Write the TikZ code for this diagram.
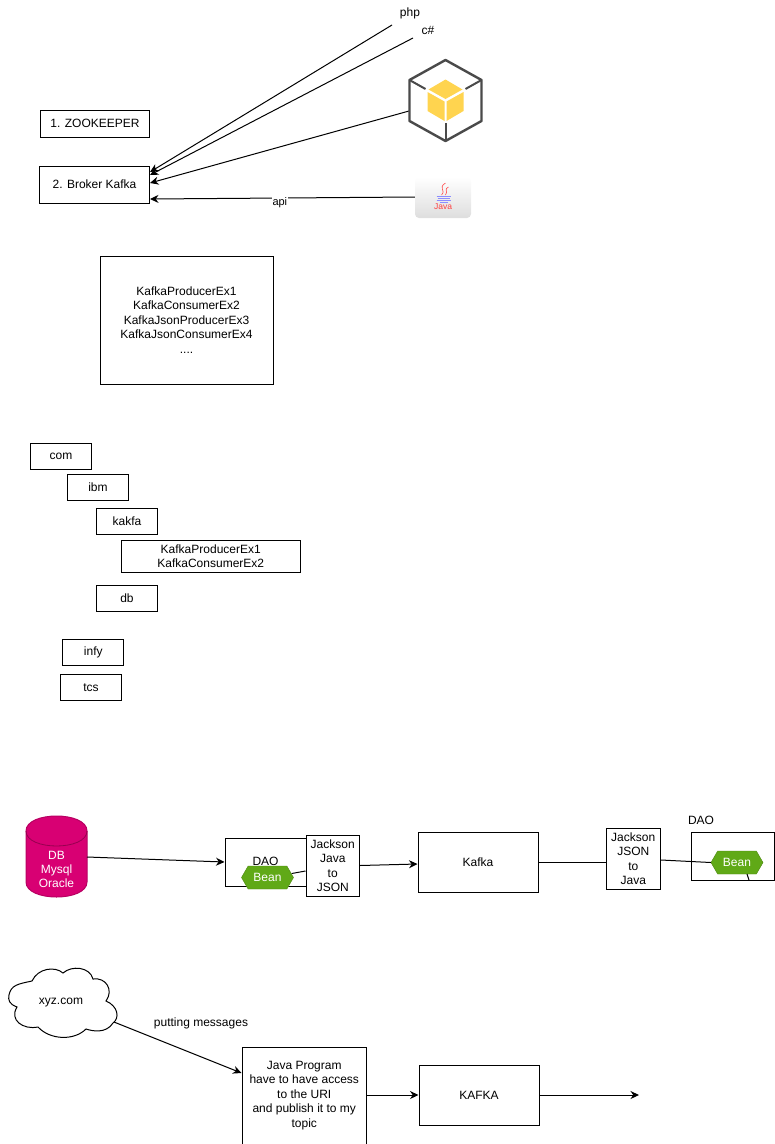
\documentclass[tikz,border=0pt]{standalone}
\usepackage{fontspec}
\setmainfont{Liberation Sans}
\usetikzlibrary{arrows.meta,shapes.symbols}
\definecolor{dbpink}{HTML}{D80073}
\definecolor{beangreen}{HTML}{60A917}
\definecolor{icongray}{HTML}{4A4A4A}
\definecolor{iconyellow}{HTML}{FFD44F}
\tikzset{
  every node/.style={font=\fontsize{12}{14.4}\selectfont,align=center,inner sep=0pt},
  box/.style={draw,fill=white,line width=1pt},
  pkgbox/.style={box,minimum width=61pt,minimum height=26.5pt},
  beanhex/.style={draw=beangreen!80!black,fill=beangreen,text=white,signal,signal to=east and west,
    signal pointer angle=120,minimum width=52pt,minimum height=23pt},
  conn/.style={line width=1pt},
  arr/.style={conn,-{Stealth[length=8.5pt,width=8pt]}}
}
\begin{document}
\begin{tikzpicture}[x=1pt,y=-1pt]
  \useasboundingbox (0,0) rectangle (775,1144);

  % brokers and clients
  \node[box,minimum width=109pt,minimum height=27pt] (zookeeper) at (95,123.5) {1. ZOOKEEPER};
  \node[box,minimum width=110pt,minimum height=37pt] (broker) at (94.5,184.5) {2. Broker Kafka};
  \node (php) at (410,13) {php};
  \node (csharp) at (428,30) {c\#};
  \coordinate (phpend) at (392,25);
  \coordinate (csharpend) at (413,38);
  \coordinate (iconend) at (409,111);
  \coordinate (javaend) at (415,197);
  \coordinate (brokerA) at (150,172);
  \coordinate (brokerB) at (150,175);
  \coordinate (brokerC) at (150,183);
  \coordinate (brokerD) at (150,199);
  \draw[arr] (phpend) -- (brokerA);
  \draw[arr] (csharpend) -- (brokerB);
  \draw[arr] (iconend) -- (brokerC);
  \draw[arr] (javaend) -- (brokerD) node[pos=.51,fill=white,font=\fontsize{11}{13}\selectfont,inner sep=1pt,yshift=-5pt] (apilabel) {api};

  % cube icon
  \begin{scope}[shift={(445.5,100)}]
    \draw[icongray,line width=2.4pt,line join=round] (0,-40) -- (36,-20) -- (36,21) -- (0,41) -- (-36,21) -- (-36,-20) -- cycle;
    \draw[icongray,line width=2pt] (-36,-20) -- (-20,-11);
    \draw[icongray,line width=2pt] (36,-20) -- (20,-11);
    \draw[icongray,line width=2pt] (0,41) -- (0,23);
    \fill[iconyellow] (0,-20.5) -- (17,-10.5) -- (0,-1) -- (-17,-10.5) -- cycle;
    \fill[iconyellow] (-18,-8) -- (-1,1.5) -- (-1,21) -- (-18,11) -- cycle;
    \fill[iconyellow] (18,-8) -- (1,1.5) -- (1,21) -- (18,11) -- cycle;
  \end{scope}

  % java icon
  \shade[top color=white,bottom color=black!13,rounded corners=4pt] (415,177) rectangle (471,218);
  \begin{scope}[shift={(443.5,190)}]
    \draw[red!70!white,line width=.6pt] (2,-7) .. controls (-6,-2) and (3,0) .. (-2,5);
    \draw[red!70!white,line width=.6pt] (5,-3) .. controls (0,-1) and (5,1) .. (2,5);
    \foreach \yy/\ww in {6/7,8/6,10/7,12/4}{
      \draw[blue!45!white,line width=.6pt] (-\ww,\yy) -- (\ww,\yy);
    }
  \end{scope}
  \node[text=red!75!white,font=\fontsize{8.5}{9}\selectfont] (javalogo) at (443,207) {Java};

  % class list
  \node[box,minimum width=173pt,minimum height=128pt] (classlist) at (186.5,320) {KafkaProducerEx1\\KafkaConsumerEx2\\KafkaJsonProducerEx3\\KafkaJsonConsumerEx4\\....};

  % packages
  \foreach \nm/\cx/\cy in {com/61/456.5,ibm/98/487.5,kakfa/127/521.5,db/127/598.5,infy/93.25/652.5,tcs/91/687.5}{
    \node[pkgbox] (\nm) at (\cx,\cy) {\nm};
  }
  \node[box,minimum width=179.5pt,minimum height=32pt] (kakfaclasses) at (210.75,556) {KafkaProducerEx1\\KafkaConsumerEx2};

  % db to kafka
  \draw[draw=dbpink!85!black,fill=dbpink,line width=1pt] (26,831) .. controls (26,811) and (87,811) .. (87,831) -- (87,882)
    .. controls (87,902) and (26,902) .. (26,882) -- cycle;
  \draw[draw=dbpink!70!black,line width=.8pt] (26,831) .. controls (26,851) and (87,851) .. (87,831);
  \node[text=white] (dbstore) at (56.5,869.5) {DB\\Mysql\\Oracle};
  \coordinate (dbout) at (87,857);
  \node[box,minimum width=81pt,minimum height=48pt] (dao) at (265.5,862) {\raisebox{2pt}{DAO}};
  \node[box,minimum width=53.5pt,minimum height=61pt] (jacksonA) at (332.75,865.5) {Jackson\\Java\\to\\JSON};
  \node[beanhex] (beanA) at (267.5,877.5) {Bean};
  \node[box,minimum width=120pt,minimum height=60pt] (kafkaA) at (478,862) {Kafka};
  \node[box,minimum width=54.5pt,minimum height=61pt] (jacksonB) at (633.25,858.5) {Jackson\\JSON\\to\\Java};
  \node[box,minimum width=83pt,minimum height=48pt] (daoB) at (732.5,856) {};
  \node (daoBlabel) at (701,820) {DAO};
  \node[beanhex] (beanB) at (737,862.5) {Bean};
  \draw[arr] (dbout) -- (dao.west);
  \draw[arr] (jacksonA.east) -- (kafkaA.west |- 0,864);
  \draw[conn] (beanA.east) ++(-2,-4) -- (jacksonA.west |- 0,871);
  \draw[conn] (kafkaA.east) -- (jacksonB.west |- kafkaA.east);
  \draw[conn] (jacksonB.east |- 0,860) -- (beanB.west);
  \coordinate (daoBbottom) at (749,880);
  \draw[conn] (747,874) -- (daoBbottom);

  % web feed
  \draw[line width=1pt] (9,995) .. controls (11,985) and (18,984) .. (32,981)
    .. controls (38,968) and (55,966) .. (63,973)
    .. controls (72,965) and (90,967) .. (93,979)
    .. controls (106,977) and (114,990) .. (106,1001)
    .. controls (118,1006) and (120,1018) .. (113,1023)
    .. controls (106,1034) and (92,1031) .. (86,1029)
    .. controls (74,1041) and (50,1040) .. (38,1027)
    .. controls (23,1030) and (9,1020) .. (17,1007)
    .. controls (9,1004) and (8,1000) .. (9,995) -- cycle;
  \node (xyz) at (61,1002.5) {xyz.com};
  \node (putting) at (201,1023) {putting messages};
  \node[box,minimum width=124.5pt,minimum height=97pt] (javaprog) at (304.25,1095.5) {Java Program\\have to have access\\to the URI\\and publish it to my\\topic};
  \node[box,minimum width=120pt,minimum height=60pt] (kafkaB) at (479,1095) {KAFKA};
  \coordinate (feedend) at (639,1095);
  \coordinate (xyzout) at (114,1022);
  \draw[arr] (xyzout) -- (javaprog.west |- 0,1073);
  \draw[arr] (javaprog.east |- kafkaB.west) -- (kafkaB.west);
  \draw[arr] (kafkaB.east) -- (feedend);
\end{tikzpicture}
\end{document}
